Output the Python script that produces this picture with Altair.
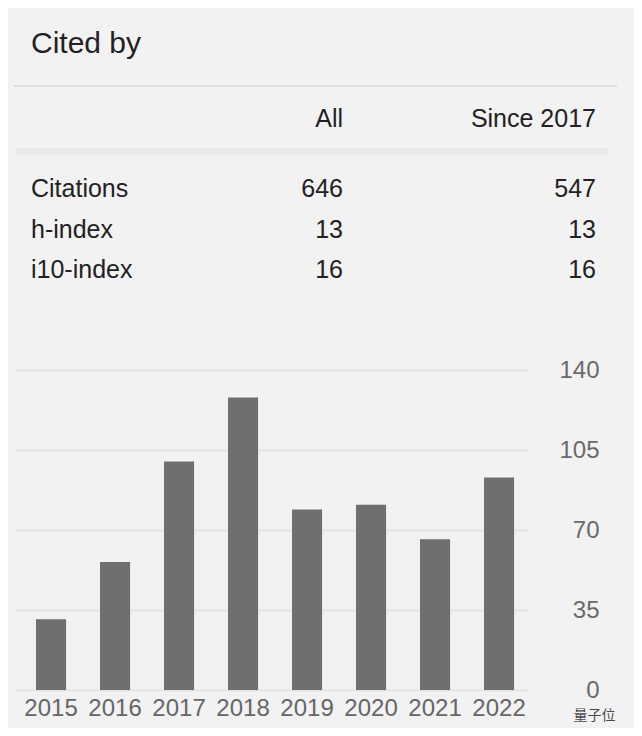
import altair as alt
import pandas as pd

years = ["2015", "2016", "2017", "2018", "2019", "2020", "2021", "2022"]
citations = [31, 56, 100, 128, 79, 81, 66, 93]
y_ticks = [0, 35, 70, 105, 140]

metrics = ["Citations", "h-index", "i10-index"]
all_vals = ["646", "13", "16"]
since_vals = ["547", "13", "16"]
title_text = "Cited by"
col_headers = ["All", "Since 2017"]
watermark = "量子位"

FONT = "Liberation Sans"
BG = "#f2f2f2"

bars_df = pd.DataFrame({"year": years, "count": citations})
table_df = pd.DataFrame({"metric": metrics, "all": all_vals, "since": since_vals})

bars = alt.Chart(bars_df).mark_bar(color="#6f6f6f").encode(
    x=alt.X("year:O", sort=years, title=None,
            scale=alt.Scale(paddingInner=0.53, paddingOuter=0.265, align=0.59),
            axis=alt.Axis(labelAngle=0, labelFontSize=24, labelColor="#666666",
                          labelFont=FONT, domain=False, ticks=False, tickSize=0,
                          labelPadding=25, labelBaseline="alphabetic", grid=False)),
    y=alt.Y("count:Q", title=None,
            scale=alt.Scale(domain=[0, 140], nice=False, zero=True),
            axis=alt.Axis(orient="right", values=y_ticks, labelFontSize=24,
                          labelColor="#6a6a6a", labelFont=FONT, labelAlign="right",
                          labelBaseline="middle", labelPadding=71, domain=False,
                          ticks=False, tickSize=0, grid=True, gridColor="#e3e3e3",
                          gridWidth=2)),
)

row_y = alt.Y("metric:N", sort=metrics, axis=None,
              scale=alt.Scale(type="point", domain=metrics, range=[-173.3, -91.7], padding=0))

title = alt.Chart(pd.DataFrame({"t": [title_text]})).mark_text(
    align="left", baseline="alphabetic", font=FONT, fontSize=30, color="#222222"
).encode(text="t:N", x=alt.value(15), y=alt.value(-316.7))

top_line = alt.Chart(pd.DataFrame({"a": [0]})).mark_rule(color="#d9d9d9", strokeWidth=1.5).encode(
    x=alt.value(-2), x2=alt.value(601), y=alt.value(-284))

shadow = alt.Chart(pd.DataFrame({"a": [0]})).mark_rule(color="#e8e8e8", strokeWidth=6).encode(
    x=alt.value(0), x2=alt.value(592), y=alt.value(-218.5))

hdr_all = alt.Chart(pd.DataFrame({"t": [col_headers[0]]})).mark_text(
    align="right", baseline="alphabetic", font=FONT, fontSize=25, color="#222222"
).encode(text="t:N", x=alt.value(327), y=alt.value(-242.7))

hdr_since = alt.Chart(pd.DataFrame({"t": [col_headers[1]]})).mark_text(
    align="right", baseline="alphabetic", font=FONT, fontSize=25, color="#222222"
).encode(text="t:N", x=alt.value(580), y=alt.value(-242.7))

base_tbl = alt.Chart(table_df)
col_metric = base_tbl.mark_text(align="left", baseline="alphabetic", font=FONT,
                                fontSize=25, color="#222222").encode(
    text="metric:N", x=alt.value(15), y=row_y)
col_all = base_tbl.mark_text(align="right", baseline="alphabetic", font=FONT,
                             fontSize=25, color="#222222").encode(
    text="all:N", x=alt.value(327), y=row_y)
col_since = base_tbl.mark_text(align="right", baseline="alphabetic", font=FONT,
                               fontSize=25, color="#222222").encode(
    text="since:N", x=alt.value(580), y=row_y)

wm = alt.Chart(pd.DataFrame({"t": [watermark]})).mark_text(
    align="center", baseline="middle", font="Noto Sans CJK SC", fontSize=14,
    color="#4a4a4a"
).encode(text="t:N", x=alt.value(578.5), y=alt.value(346))

table = alt.layer(title, top_line, shadow, hdr_all, hdr_since, col_metric, col_all, col_since, wm)

chart = alt.layer(bars, table).resolve_scale(y="independent", x="independent").properties(
    width=512, height=320,
    autosize=alt.AutoSizeParams(type="none"),
    padding={"left": 8, "top": 362, "right": 106, "bottom": 38},
    background=BG,
).configure_view(stroke=None)

chart.save("out.html", embed_options={"renderer": "svg", "actions": False})
